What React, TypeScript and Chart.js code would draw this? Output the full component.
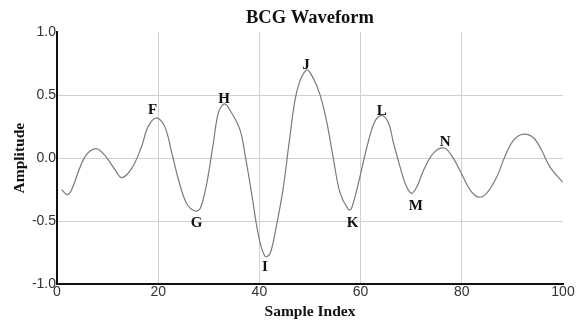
import React, { useEffect, useRef } from "react";
import { Chart, registerables } from "chart.js";

Chart.register(...registerables);

const sampleIndex = [
  0.9, 2.0, 2.8, 5.5, 7.7, 9.5, 11.5, 12.8, 14.8, 16.7, 18.0, 19.7, 21.3, 22.7, 24.0, 25.6,
  27.3, 28.3, 29.6, 30.9, 31.9, 33.1, 34.5, 36.2, 37.2, 38.5, 39.8, 41.1, 42.1, 43.4, 44.7,
  46.0, 47.4, 49.3, 50.7, 52.0, 53.3, 54.6, 55.9, 57.6, 58.2, 59.5, 61.2, 62.8, 64.2, 65.5,
  66.5, 67.8, 68.8, 70.0, 71.1, 72.4, 74.4, 76.5, 78.0, 79.6, 81.6, 83.3, 84.9, 86.9, 88.5,
  90.2, 92.2, 94.2, 95.8, 97.4, 99.9,
];
const amplitude = [
  -0.25, -0.29, -0.26, 0.01, 0.075, 0.02, -0.095, -0.155, -0.08, 0.09, 0.25, 0.32, 0.25, 0.04,
  -0.17, -0.36, -0.42, -0.4, -0.2, 0.12, 0.36, 0.43, 0.36, 0.22, 0.02, -0.29, -0.61, -0.78,
  -0.76, -0.53, -0.24, 0.16, 0.53, 0.7, 0.63, 0.5, 0.29, 0.0, -0.27, -0.41, -0.4, -0.21, 0.08,
  0.29, 0.34, 0.28, 0.12, -0.07, -0.2, -0.28, -0.23, -0.1, 0.04, 0.08, 0.02, -0.095, -0.25,
  -0.31, -0.28, -0.15, 0.01, 0.14, 0.19, 0.16, 0.06, -0.07, -0.19,
];

const peakLabels = ["F", "G", "H", "I", "J", "K", "L", "M", "N"];
const peakLabelX = [18.9, 27.6, 33.0, 41.1, 49.2, 58.4, 64.2, 70.9, 76.7];
const peakLabelY = [0.38, -0.518, 0.465, -0.863, 0.738, -0.518, 0.373, -0.381, 0.13];

const xTicks = [0, 20, 40, 60, 80, 100];
const yTicks = [-1.0, -0.5, 0.0, 0.5, 1.0];

const labelPlugin = {
  id: "peakLabels",
  afterDatasetsDraw(chart: any) {
    const { ctx, scales } = chart;
    ctx.save();
    ctx.font = "bold 15px 'Liberation Serif', serif";
    ctx.fillStyle = "#111";
    ctx.textAlign = "center";
    ctx.textBaseline = "middle";
    peakLabels.forEach((t, i) => {
      ctx.fillText(t, scales.x.getPixelForValue(peakLabelX[i]), scales.y.getPixelForValue(peakLabelY[i]));
    });
    ctx.restore();
  },
};

export default function App() {
  const ref = useRef<HTMLCanvasElement>(null);
  useEffect(() => {
    document.body.style.margin = "0";
    const chart = new Chart(ref.current!, {
      type: "line",
      data: {
        datasets: [
          {
            data: sampleIndex.map((x, i) => ({ x, y: amplitude[i] })),
            borderColor: "#7a7a7a",
            borderWidth: 1.2,
            pointRadius: 0,
            tension: 0.35,
            fill: false,
          },
        ],
      },
      options: {
        animation: false,
        responsive: false,
        devicePixelRatio: 1,
        layout: { padding: { left: 0, right: 22, top: 0, bottom: 0 } },
        plugins: {
          legend: { display: false },
          tooltip: { enabled: false },
          title: {
            display: true,
            text: "BCG Waveform",
            fullSize: false,
            color: "#111",
            font: { family: "'Liberation Serif', serif", size: 18.5, weight: "bold" },
            padding: { top: 7, bottom: 3 },
          },
        },
        scales: {
          x: {
            type: "linear",
            min: 0,
            max: 100,
            afterBuildTicks: (s: any) => {
              s.ticks = xTicks.map((v) => ({ value: v }));
            },
            afterFit: (s: any) => {
              s.height = 37;
            },
            ticks: {
              padding: 0,
              color: "#333",
              font: { family: "'Liberation Sans', Arial, sans-serif", size: 14 },
              callback: (v: any) => String(v),
            },
            grid: {
              drawTicks: false,
              color: (c: any) => (c.tick && c.tick.value === 100 ? "rgba(0,0,0,0)" : "#d0d0d0"),
              lineWidth: 1,
            },
            border: { display: true, color: "#111", width: 2 },
            title: {
              display: true,
              text: "Sample Index",
              color: "#111",
              font: { family: "'Liberation Serif', serif", size: 15.5, weight: "bold" },
              padding: { top: 0, bottom: 0 },
            },
          },
          y: {
            type: "linear",
            min: -1,
            max: 1,
            afterBuildTicks: (s: any) => {
              s.ticks = yTicks.map((v) => ({ value: v }));
            },
            afterFit: (s: any) => {
              s.width = 57;
            },
            ticks: {
              padding: 1,
              color: "#333",
              font: { family: "'Liberation Sans', Arial, sans-serif", size: 14 },
              callback: (v: any) => Number(v).toFixed(1),
            },
            grid: {
              drawTicks: false,
              color: (c: any) => (c.tick && c.tick.value === 1 ? "rgba(0,0,0,0)" : "#d0d0d0"),
              lineWidth: 1,
            },
            border: { display: true, color: "#111", width: 2 },
            title: {
              display: true,
              text: "Amplitude",
              color: "#111",
              font: { family: "'Liberation Serif', serif", size: 15.5, weight: "bold" },
              padding: { top: 11, bottom: 0 },
            },
          },
        },
      },
      plugins: [labelPlugin],
    } as any);
    return () => chart.destroy();
  }, []);
  return (
    <div style={{ position: "absolute", left: 0, top: 0, width: 585, height: 321, background: "#fff" }}>
      <canvas ref={ref} width={585} height={321} style={{ display: "block" }} />
    </div>
  );
}
